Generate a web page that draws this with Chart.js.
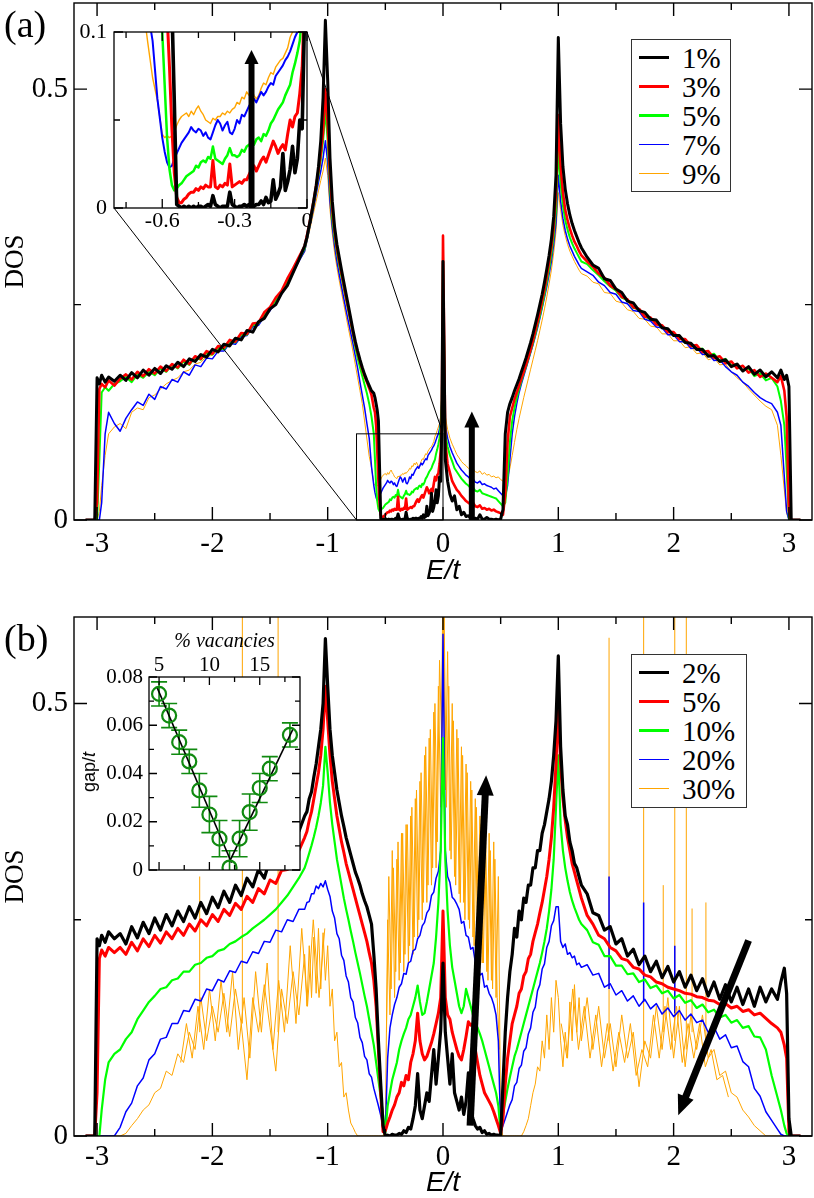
<!DOCTYPE html>
<html><head><meta charset="utf-8">
<script src="https://cdn.jsdelivr.net/npm/chart.js@4.4.1/dist/chart.umd.min.js"></script>
<style>
html,body{margin:0;padding:0;background:#fff;}
#wrap{position:relative;width:814px;height:1198px;overflow:hidden;background:#fff;}
canvas{position:absolute;}
.lbl{position:absolute;font-family:'Liberation Serif','Times New Roman',serif;color:#000;white-space:nowrap;z-index:4;}
.legend{position:absolute;border:1.5px solid #333;background:#fff;box-sizing:border-box;z-index:5;}
.legend .ln{position:absolute;left:7px;width:30px;}
.legend .tx{position:absolute;left:50px;font:29px/28px 'Liberation Serif',serif;color:#000;white-space:nowrap;}
#gapt{position:absolute;left:89px;top:772px;transform:translate(-50%,-50%) rotate(-90deg);font:18px/18px 'Liberation Sans',sans-serif;white-space:nowrap;z-index:4;}
#warn{position:absolute;left:300px;top:560px;color:#c00;font:12px sans-serif;z-index:9;}
</style></head>
<body><div id="wrap">
<canvas id="cA" width="814" height="600" style="left:0;top:0;z-index:1"></canvas>
<canvas id="cB" width="814" height="598" style="left:0;top:600px;z-index:1"></canvas>
<canvas id="cAi" width="290" height="240" style="left:40px;top:10px;z-index:2"></canvas>
<canvas id="cBi" width="260" height="280" style="left:60px;top:615px;z-index:2"></canvas>
<div class="lbl" style="left:4px;top:2px;font-size:38px;line-height:44px">(a)</div>
<div class="lbl" style="left:4px;top:616px;font-size:38px;line-height:44px">(b)</div>
<div id="gapt">gap/<i>t</i></div>
<div class="legend" id="legA" style="left:631px;top:39px;width:100px;height:153px"></div>
<div class="legend" id="legB" style="left:631px;top:654px;width:116px;height:154px"></div>
<div id="warn"></div>
</div>
<script>
// ---------- energy grids (E/t) ----------
const gA1=[-3.1,-3.02,-3,-2.98,-2.96,-2.93,-2.9,-2.85];
const gA2=[-2.8,-2.75,-2.7,-2.65,-2.6,-2.55,-2.5,-2.45,-2.4,-2.35,
-2.3,-2.25,-2.2,-2.15,-2.1,-2.05,-2,-1.95,-1.9,-1.85,
-1.8,-1.75,-1.7,-1.65,-1.6,-1.55,-1.5,-1.45,-1.4,-1.35,
-1.3,-1.25];
const gA3=[-1.2,-1.18,-1.16,-1.14,-1.12,-1.1,-1.08,-1.06,-1.04,-1.02,
-1,-0.98,-0.96,-0.94,-0.92,-0.9,-0.88,-0.86,-0.84,-0.82,
-0.8,-0.78,-0.76,-0.74,-0.72,-0.7,-0.68,-0.66,-0.64,-0.62];
const gA4=[-0.6,-0.59,-0.58,-0.57,-0.56,-0.55,-0.54,-0.53,-0.52,-0.51,
-0.5,-0.49,-0.48,-0.47,-0.46,-0.45,-0.44,-0.43,-0.42,-0.41,
-0.4,-0.39,-0.38,-0.37,-0.36,-0.35,-0.34,-0.33,-0.32,-0.31,
-0.3,-0.29,-0.28,-0.27,-0.26,-0.25,-0.24,-0.23,-0.22,-0.21,
-0.2,-0.19,-0.18,-0.17,-0.16,-0.15,-0.14,-0.13,-0.12,-0.11,
-0.1,-0.09,-0.08,-0.07,-0.06,-0.05,-0.04,-0.03,-0.02,-0.01,
0];
const gA5=[0.02,0.04,0.06,0.08,0.1,0.12,0.14,0.16,0.18,0.2,
0.22,0.24,0.26,0.28,0.3,0.32,0.34,0.36,0.38,0.4,
0.42,0.44,0.46,0.48,0.5,0.52,0.54,0.56,0.58,0.6];
const gA6=[0.62,0.64,0.66,0.68,0.7,0.72,0.74,0.76,0.78,0.8,
0.82,0.84,0.86,0.88,0.9,0.92,0.94,0.96,0.98,1,
1.02,1.04,1.06,1.08,1.1,1.12,1.14,1.16,1.18,1.2];
const gA7=[1.25,1.3,1.35,1.4,1.45,1.5,1.55,1.6,1.65,1.7,
1.75,1.8,1.85,1.9,1.95,2,2.05,2.1,2.15,2.2,
2.25,2.3,2.35,2.4,2.45,2.5,2.55,2.6,2.65,2.7,
2.75,2.8];
const gA8=[2.85,2.9,2.93,2.96,2.98,3,3.02,3.1];
const gB3=[-1.2,-1.18,-1.16,-1.14,-1.12,-1.1,-1.08,-1.06,-1.04,-1.02,
-1,-0.98,-0.96,-0.94,-0.92,-0.9,-0.88,-0.86,-0.84,-0.82,
-0.8,-0.78,-0.76,-0.74,-0.72,-0.7,-0.68,-0.66,-0.64,-0.62,
-0.6,-0.58,-0.56,-0.54,-0.52,-0.5,-0.48,-0.46,-0.44,-0.42,
-0.4,-0.38,-0.36,-0.34,-0.32,-0.3,-0.28,-0.26,-0.24,-0.22,
-0.2,-0.18,-0.16,-0.14,-0.12,-0.1,-0.08,-0.06,-0.04,-0.02,
0,0.02,0.04,0.06,0.08,0.1,0.12,0.14,0.16,0.18,
0.2,0.22,0.24,0.26,0.28,0.3,0.32,0.34,0.36,0.38,
0.4,0.42,0.44,0.46,0.48,0.5,0.52,0.54,0.56,0.58,
0.6,0.62,0.64,0.66,0.68,0.7,0.72,0.74,0.76,0.78,
0.8,0.82,0.84,0.86,0.88,0.9,0.92,0.94,0.96,0.98,
1,1.02,1.04,1.06,1.08,1.1,1.12,1.14,1.16,1.18,
1.2];
const gridA=[...gA1,...gA2,...gA3,...gA4,...gA5,...gA6,...gA7,...gA8];
const gridB=[...gA1,...gA2,...gB3,...gA7,...gA8];
// interleaved sampling points for the very jagged 30% curve
const gB30mid=[-0.49,-0.47,-0.45,-0.43,-0.41,-0.39,-0.37,-0.35,-0.33,-0.31,
-0.29,-0.27,-0.25,-0.23,-0.21,-0.19,-0.17,-0.15,-0.13,-0.11,
-0.09,-0.07,-0.05,-0.03,-0.01,0.01,0.03,0.05,0.07,0.09,
0.11,0.13,0.15,0.17,0.19,0.21,0.23,0.25,0.27,0.29,
0.31,0.33,0.35,0.37,0.39,0.41,0.43,0.45,0.47,0.49];
const gB30left=[-2.275,-2.225,-2.175,-2.125,-2.075,-2.025,-1.975,-1.925,-1.875,-1.825,
-1.775,-1.725,-1.675,-1.625,-1.575,-1.525,-1.475,-1.425,-1.375,-1.325,
-1.275,-1.225,-1.175,-1.125,-1.075,-1.025];
const gB30right=[1.025,1.075,1.125,1.175,1.225,1.275,1.325,1.375,1.425,1.475,
1.525,1.575,1.625,1.675,1.725,1.775,1.825,1.875,1.925,1.975,
2.025,2.075,2.125,2.175,2.225,2.275,2.325,2.375,2.425,2.475];

// ---------- panel (a) DOS series ----------
const dosA1=[0,0,0.165,0.158,0.168,0.16,0.166,0.161,
0.168,0.162,0.171,0.165,0.174,0.168,0.176,0.17,0.179,0.175,
0.183,0.178,0.187,0.184,0.192,0.189,0.198,0.195,0.204,0.202,
0.211,0.209,0.22,0.218,0.23,0.234,0.245,0.25,0.263,0.272,
0.287,0.302,
0.318,0.328,0.342,0.356,0.371,0.388,0.41,0.44,0.49,0.58,
0.51,0.42,0.37,0.34,0.32,0.305,0.29,0.276,0.262,0.248,
0.234,0.22,0.207,0.196,0.186,0.177,0.169,0.162,0.156,0.15,
0.147,0.142,0.135,0.127,0.115,0.06,0.002,0.001,0,0.001,
0,0.001,0,0.001,0,0.001,0.001,0,0.001,0.002,
0.001,0.007,0.002,0.001,0,0.001,0.001,0.001,0.009,0.002,
0.001,0,0.001,0.001,0.002,0.001,0.002,0.002,0.001,0.002,
0.002,0.004,0.002,0.006,0.003,0.004,0.016,0.005,0.008,0.012,
0.031,0.01,0.015,0.022,0.035,0.02,0.028,0.05,0.045,0.11,
0.3,
0.07,0.045,0.03,0.022,0.028,0.012,0.016,0.006,0.009,0.004,
0.005,0.002,0.001,0.002,0.001,0.006,0.001,0.001,0.003,0.001,
0.001,0,0.001,0,0.001,0.012,0.1,0.125,0.135,0.142,
0.15,0.157,0.164,0.172,0.18,0.188,0.197,0.206,0.216,0.227,
0.238,0.25,0.262,0.276,0.291,0.307,0.326,0.352,0.4,0.56,
0.46,0.41,0.384,0.367,0.354,0.344,0.336,0.329,0.322,0.316,
0.305,0.296,0.292,0.28,0.278,0.268,0.264,0.254,0.252,0.243,
0.241,0.233,0.232,0.223,0.222,0.214,0.214,0.206,0.205,0.198,
0.198,0.19,0.191,0.184,0.186,0.178,0.181,0.173,0.178,0.169,
0.174,0.166,
0.172,0.165,0.174,0.163,0.168,0.155,0,0];
const dosA3=[0,0,0.02,0.152,0.158,0.154,0.162,0.156,
0.164,0.169,0.163,0.172,0.167,0.175,0.17,0.178,0.173,0.181,
0.177,0.186,0.181,0.19,0.187,0.196,0.193,0.202,0.2,0.209,
0.207,0.217,0.216,0.228,0.229,0.241,0.247,0.258,0.266,0.28,
0.292,0.305,
0.318,0.33,0.343,0.357,0.372,0.388,0.405,0.425,0.45,0.5,
0.46,0.4,0.36,0.335,0.315,0.3,0.286,0.272,0.258,0.245,
0.231,0.217,0.205,0.194,0.184,0.175,0.167,0.16,0.153,0.145,
0.13,0.125,0.11,0.08,0.045,0.02,0.006,0.003,0.003,0.005,
0.006,0.008,0.009,0.009,0.011,0.01,0.012,0.011,0.013,0.012,
0.012,0.027,0.012,0.011,0.013,0.012,0.014,0.013,0.025,0.012,
0.013,0.014,0.015,0.014,0.016,0.016,0.019,0.022,0.024,0.021,
0.024,0.027,0.029,0.026,0.03,0.034,0.038,0.035,0.031,0.034,
0.036,0.033,0.042,0.05,0.046,0.052,0.054,0.065,0.08,0.12,
0.33,
0.09,0.065,0.055,0.045,0.04,0.035,0.032,0.028,0.025,0.022,
0.02,0.018,0.02,0.016,0.015,0.017,0.013,0.014,0.012,0.013,
0.011,0.012,0.01,0.009,0.008,0.006,0.03,0.09,0.12,0.13,
0.14,0.148,0.156,0.164,0.172,0.18,0.189,0.198,0.208,0.219,
0.23,0.242,0.255,0.268,0.283,0.299,0.317,0.34,0.38,0.47,
0.41,0.38,0.36,0.348,0.338,0.33,0.323,0.318,0.312,0.307,
0.3,0.294,0.286,0.281,0.272,0.268,0.259,0.256,0.247,0.245,
0.236,0.235,0.227,0.226,0.218,0.218,0.21,0.21,0.202,0.203,
0.195,0.196,0.188,0.19,0.182,0.184,0.176,0.179,0.171,0.174,
0.166,0.17,
0.165,0.16,0.167,0.15,0.12,0.01,0,0];
const dosA5=[0,0,0,0.07,0.148,0.154,0.15,0.158,
0.161,0.166,0.16,0.169,0.165,0.172,0.168,0.176,0.172,0.18,
0.176,0.184,0.18,0.189,0.186,0.194,0.192,0.2,0.198,0.207,
0.206,0.215,0.215,0.226,0.228,0.238,0.245,0.255,0.264,0.277,
0.29,0.302,
0.315,0.327,0.34,0.354,0.369,0.384,0.4,0.418,0.44,0.475,
0.44,0.385,0.35,0.328,0.31,0.295,0.282,0.268,0.255,0.242,
0.228,0.214,0.2,0.188,0.177,0.167,0.157,0.147,0.135,0.12,
0.1,0.07,0.04,0.022,0.013,0.01,0.011,0.013,0.014,0.016,
0.018,0.019,0.02,0.021,0.024,0.023,0.026,0.027,0.026,0.029,
0.028,0.035,0.028,0.027,0.026,0.025,0.028,0.03,0.034,0.03,
0.03,0.029,0.03,0.033,0.032,0.035,0.036,0.037,0.036,0.039,
0.04,0.038,0.042,0.041,0.044,0.048,0.05,0.053,0.056,0.058,
0.06,0.064,0.067,0.07,0.077,0.082,0.088,0.095,0.11,0.14,
0.31,
0.1,0.085,0.075,0.068,0.06,0.056,0.052,0.048,0.045,0.042,
0.04,0.037,0.038,0.034,0.033,0.035,0.031,0.03,0.029,0.028,
0.027,0.026,0.025,0.022,0.019,0.016,0.02,0.05,0.09,0.115,
0.13,0.142,0.152,0.161,0.17,0.178,0.187,0.196,0.205,0.215,
0.226,0.237,0.249,0.262,0.276,0.291,0.308,0.33,0.36,0.43,
0.39,0.365,0.348,0.337,0.328,0.321,0.315,0.31,0.305,0.3,
0.297,0.29,0.284,0.277,0.271,0.266,0.258,0.255,0.246,0.245,
0.236,0.233,0.229,0.223,0.221,0.214,0.213,0.206,0.205,0.198,
0.199,0.191,0.193,0.185,0.187,0.179,0.181,0.173,0.176,0.167,
0.17,0.162,
0.165,0.155,0.138,0.11,0.06,0.002,0,0];
const dosA7=[0,0,0,0,0.02,0.1,0.125,0.112,
0.103,0.118,0.128,0.137,0.133,0.146,0.14,0.155,0.152,0.163,
0.16,0.172,0.168,0.18,0.178,0.188,0.187,0.196,0.196,0.205,
0.204,0.213,0.214,0.224,0.226,0.236,0.243,0.252,0.262,0.274,
0.287,0.3,
0.312,0.324,0.337,0.35,0.364,0.378,0.392,0.405,0.42,0.44,
0.415,0.37,0.34,0.318,0.3,0.285,0.271,0.257,0.243,0.23,
0.217,0.204,0.19,0.176,0.16,0.145,0.13,0.112,0.095,0.062,
0.04,0.032,0.026,0.023,0.024,0.028,0.031,0.034,0.037,0.039,
0.041,0.043,0.046,0.044,0.043,0.045,0.044,0.041,0.043,0.04,
0.039,0.043,0.047,0.05,0.048,0.044,0.047,0.049,0.043,0.042,
0.045,0.05,0.048,0.053,0.052,0.055,0.058,0.06,0.062,0.06,
0.063,0.066,0.064,0.066,0.069,0.071,0.07,0.075,0.077,0.079,
0.081,0.084,0.086,0.089,0.093,0.097,0.1,0.106,0.118,0.14,
0.29,
0.11,0.095,0.085,0.078,0.072,0.066,0.062,0.058,0.055,0.052,
0.05,0.047,0.048,0.044,0.043,0.045,0.041,0.042,0.04,0.039,
0.038,0.036,0.037,0.034,0.031,0.028,0.027,0.04,0.07,0.1,
0.12,0.135,0.148,0.158,0.167,0.176,0.185,0.194,0.203,0.213,
0.223,0.234,0.246,0.258,0.271,0.285,0.3,0.32,0.345,0.4,
0.37,0.35,0.336,0.326,0.318,0.312,0.306,0.301,0.296,0.292,
0.288,0.284,0.276,0.272,0.264,0.262,0.253,0.251,0.243,0.242,
0.233,0.231,0.224,0.223,0.215,0.215,0.207,0.207,0.199,0.2,
0.192,0.193,0.185,0.186,0.178,0.172,0.168,0.16,0.155,0.148,
0.142,0.138,
0.135,0.125,0.11,0.05,0.01,0,0,0];
const dosA9=[0,0,0,0.01,0.04,0.075,0.1,0.108,
0.112,0.106,0.125,0.13,0.128,0.142,0.145,0.152,0.158,0.162,
0.165,0.172,0.174,0.181,0.183,0.19,0.191,0.199,0.2,0.207,
0.208,0.216,0.218,0.227,0.23,0.24,0.246,0.255,0.265,0.276,
0.288,0.3,
0.311,0.322,0.334,0.346,0.358,0.37,0.382,0.394,0.405,0.42,
0.4,0.36,0.332,0.31,0.293,0.278,0.264,0.25,0.236,0.222,
0.209,0.195,0.18,0.165,0.15,0.135,0.115,0.094,0.074,0.061,
0.042,0.04,0.041,0.04,0.041,0.043,0.047,0.05,0.052,0.053,
0.054,0.052,0.055,0.053,0.056,0.058,0.055,0.053,0.05,0.049,
0.048,0.051,0.05,0.052,0.052,0.054,0.053,0.055,0.054,0.056,
0.057,0.06,0.059,0.063,0.062,0.066,0.064,0.067,0.064,0.062,
0.064,0.068,0.071,0.07,0.074,0.077,0.076,0.08,0.082,0.084,
0.085,0.088,0.091,0.097,0.1,0.104,0.108,0.112,0.12,0.14,
0.27,
0.12,0.105,0.095,0.088,0.082,0.076,0.072,0.068,0.065,0.063,
0.06,0.058,0.06,0.056,0.055,0.057,0.053,0.055,0.052,0.053,
0.05,0.051,0.049,0.05,0.047,0.045,0.043,0.048,0.06,0.075,
0.09,0.105,0.118,0.13,0.142,0.153,0.164,0.175,0.186,0.197,
0.208,0.22,0.232,0.245,0.259,0.274,0.29,0.31,0.335,0.38,
0.36,0.342,0.33,0.32,0.312,0.306,0.3,0.295,0.29,0.286,
0.283,0.276,0.274,0.264,0.263,0.254,0.252,0.244,0.242,0.234,
0.233,0.225,0.224,0.216,0.216,0.208,0.208,0.2,0.201,0.193,
0.194,0.186,0.188,0.18,0.181,0.172,0.165,0.16,0.152,0.145,
0.138,0.132,
0.128,0.11,0.075,0.035,0.008,0,0,0];

// ---------- panel (b) DOS series ----------
const dosB2=[0,0,0.228,0.22,0.232,0.224,0.236,0.228,
0.234,0.222,0.242,0.229,0.247,0.234,0.252,0.238,0.256,0.243,
0.26,0.248,0.265,0.252,0.27,0.257,0.276,0.264,0.283,0.27,
0.29,0.278,0.298,0.288,0.308,0.298,0.32,0.311,0.334,0.328,
0.35,0.352,
0.37,0.375,0.39,0.398,0.415,0.43,0.45,0.47,0.5,0.575,
0.52,0.47,0.44,0.42,0.4,0.385,0.37,0.358,0.345,0.335,
0.325,0.315,0.305,0.298,0.29,0.28,0.272,0.265,0.255,0.245,
0.21,0.17,0.11,0.06,0.012,0,0.001,0,0.002,0.001,
0.001,0.003,0.002,0.006,0.004,0.01,0.008,0.02,0.035,0.072,
0.03,0.02,0.035,0.05,0.04,0.07,0.1,0.06,0.09,0.122,
0.2,0.12,0.09,0.06,0.095,0.05,0.04,0.03,0.045,0.025,
0.04,0.073,0.03,0.02,0.012,0.008,0.01,0.004,0.006,0.002,
0.003,0.001,0.002,0.001,0.001,0,0.06,0.12,0.16,0.19,
0.21,0.24,0.23,0.26,0.25,0.275,0.27,0.29,0.29,0.31,
0.31,0.33,0.33,0.35,0.36,0.375,0.39,0.41,0.44,0.48,
0.555,0.45,0.4,0.37,0.36,0.34,0.33,0.315,0.31,0.3,
0.29,
0.28,0.258,0.255,0.238,0.242,0.222,0.228,0.208,0.216,0.198,
0.208,0.19,0.202,0.183,0.196,0.178,0.19,0.172,0.186,0.168,
0.182,0.162,0.178,0.158,0.175,0.155,0.172,0.152,0.17,0.15,
0.172,0.155,
0.17,0.158,0.178,0.194,0.165,0.02,0,0];
const dosB5=[0,0,0.05,0.205,0.215,0.208,0.218,0.212,
0.218,0.21,0.224,0.214,0.228,0.219,0.232,0.223,0.236,0.228,
0.24,0.232,0.245,0.237,0.25,0.243,0.256,0.248,0.262,0.255,
0.269,0.262,0.277,0.27,0.286,0.28,0.296,0.292,0.307,0.308,
0.325,0.33,
0.345,0.352,0.365,0.375,0.39,0.405,0.42,0.44,0.47,0.52,
0.48,0.44,0.41,0.39,0.37,0.355,0.34,0.328,0.315,0.305,
0.295,0.285,0.275,0.265,0.255,0.245,0.235,0.225,0.212,0.2,
0.18,0.15,0.1,0.05,0.005,0.006,0.015,0.022,0.03,0.036,
0.045,0.05,0.062,0.058,0.07,0.065,0.085,0.095,0.11,0.142,
0.11,0.095,0.088,0.092,0.1,0.108,0.118,0.13,0.142,0.16,
0.26,0.16,0.14,0.135,0.12,0.11,0.1,0.092,0.088,0.1,
0.115,0.132,0.128,0.13,0.1,0.085,0.07,0.06,0.05,0.045,
0.04,0.035,0.028,0.02,0.012,0.003,0.02,0.06,0.09,0.11,
0.13,0.14,0.15,0.165,0.17,0.185,0.19,0.205,0.21,0.225,
0.235,0.245,0.258,0.27,0.285,0.3,0.32,0.345,0.38,0.43,
0.5,0.43,0.39,0.365,0.345,0.33,0.315,0.305,0.295,0.285,
0.275,
0.255,0.245,0.232,0.228,0.218,0.214,0.205,0.203,0.195,0.193,
0.186,0.184,0.178,0.176,0.172,0.17,0.168,0.165,0.164,0.161,
0.16,0.157,0.156,0.152,0.153,0.148,0.15,0.144,0.146,0.14,
0.142,0.136,
0.13,0.125,0.12,0.105,0.09,0.005,0,0];
const dosB10=[0,0,0,0,0.03,0.065,0.085,0.095,
0.1,0.112,0.12,0.135,0.145,0.155,0.162,0.17,0.172,0.18,
0.182,0.19,0.19,0.198,0.2,0.206,0.208,0.214,0.216,0.222,
0.225,0.23,0.234,0.24,0.245,0.25,0.256,0.262,0.27,0.278,
0.288,0.298,
0.31,0.318,0.327,0.336,0.346,0.357,0.37,0.385,0.405,0.45,
0.42,0.385,0.36,0.34,0.32,0.305,0.29,0.275,0.262,0.25,
0.237,0.225,0.212,0.2,0.188,0.175,0.162,0.15,0.135,0.12,
0.105,0.085,0.065,0.045,0.025,0.004,0.035,0.05,0.065,0.075,
0.085,0.1,0.11,0.118,0.125,0.135,0.14,0.15,0.16,0.174,
0.155,0.14,0.142,0.155,0.17,0.185,0.2,0.23,0.27,0.33,
0.46,0.32,0.26,0.22,0.195,0.18,0.165,0.15,0.142,0.15,
0.17,0.16,0.15,0.14,0.13,0.125,0.118,0.11,0.1,0.09,
0.08,0.07,0.06,0.05,0.035,0.004,0.025,0.04,0.055,0.068,
0.08,0.092,0.1,0.11,0.12,0.13,0.14,0.15,0.16,0.17,
0.18,0.19,0.2,0.212,0.225,0.24,0.26,0.285,0.32,0.38,
0.44,0.36,0.33,0.31,0.295,0.282,0.272,0.264,0.257,0.25,
0.245,
0.238,0.224,0.221,0.208,0.208,0.197,0.197,0.187,0.188,0.178,
0.181,0.171,0.174,0.165,0.168,0.159,0.163,0.154,0.157,0.148,
0.152,0.143,0.146,0.137,0.14,0.131,0.134,0.125,0.127,0.115,
0.114,0.1,
0.07,0.045,0.03,0.012,0.003,0,0,0];
const dosB20=[0,0,0,0,0,0,0,0,
0.01,0.028,0.038,0.058,0.067,0.088,0.095,0.112,0.114,0.13,
0.13,0.145,0.144,0.158,0.156,0.17,0.168,0.181,0.178,0.191,
0.189,0.202,0.2,0.213,0.211,0.225,0.224,0.238,0.236,0.25,
0.248,0.262,
0.262,0.27,0.271,0.28,0.28,0.289,0.286,0.292,0.288,0.295,
0.285,0.277,0.26,0.252,0.234,0.228,0.209,0.203,0.185,0.178,
0.16,0.155,0.137,0.131,0.114,0.108,0.092,0.088,0.072,0.068,
0.055,0.045,0.035,0.024,0.01,0.004,0.09,0.125,0.14,0.152,
0.16,0.172,0.176,0.188,0.187,0.2,0.202,0.214,0.216,0.228,
0.232,0.243,0.247,0.258,0.262,0.278,0.282,0.298,0.306,0.33,
0.58,0.33,0.3,0.293,0.276,0.273,0.268,0.262,0.246,0.248,
0.232,0.23,0.216,0.218,0.201,0.203,0.186,0.188,0.172,0.174,
0.165,0.16,0.152,0.14,0.11,0.004,0.012,0.02,0.028,0.036,
0.042,0.058,0.062,0.078,0.082,0.098,0.102,0.118,0.125,0.143,
0.149,0.168,0.175,0.193,0.199,0.218,0.225,0.243,0.249,0.265,
0.265,0.225,0.218,0.222,0.21,0.212,0.206,0.208,0.198,0.2,
0.195,
0.198,0.186,0.188,0.172,0.176,0.163,0.168,0.156,0.162,0.15,
0.158,0.147,0.153,0.141,0.148,0.138,0.145,0.134,0.141,0.131,
0.134,0.12,0.126,0.112,0.117,0.102,0.104,0.086,0.08,0.055,
0.046,0.028,
0.018,0.008,0.002,0,0,0,0,0];
const dosB30=[0,0,0,0,0,0,0,0,
0,0.003,0.012,0.02,0.03,0.036,0.05,0.055,0.075,0.07,
0.095,0.085,0.12,0.1,0.16,0.11,0.15,0.12,0.165,0.115,
0.17,0.13,0.065,0.16,0.12,0.175,0.125,0.075,0.17,0.13,
0.19,0.14,
0.21,0.15,0.22,0.16,0.23,0.165,0.24,0.17,0.235,0.18,
0.22,0.15,0.17,0.11,0.12,0.08,0.085,0.045,0.05,0.03,
0.015,0.01,0.004,0,0,0,0,0,0,0,
0,0,0,0,0,0.01,0.25,0.14,0.33,0.16,
0.32,0.18,0.35,0.19,0.36,0.2,0.37,0.21,0.39,0.23,
0.41,0.25,0.44,0.27,0.46,0.29,0.49,0.31,0.52,0.38,
0.65,0.4,0.56,0.33,0.5,0.3,0.47,0.28,0.45,0.27,
0.43,0.25,0.41,0.23,0.39,0.22,0.37,0.2,0.36,0.19,
0.35,0.18,0.34,0.16,0.3,0.01,0,0,0,0,
0,0,0,0,0,0.005,0.012,0.02,0.035,0.05,
0.06,0.08,0.075,0.11,0.09,0.14,0.1,0.16,0.12,0.18,
0.16,0.11,0.08,0.12,0.09,0.155,0.11,0.175,0.12,0.16,
0.11,
0.16,0.1,0.15,0.09,0.13,0.08,0.14,0.09,0.12,0.057,
0.11,0.09,0.15,0.1,0.16,0.09,0.15,0.08,0.14,0.1,
0.14,0.09,0.1,0.07,0.075,0.05,0.045,0.03,0.022,0.012,
0.006,0,
0,0,0,0,0,0,0,0];
const dosB30mid=[0.12,0.3,0.17,0.31,0.19,0.34,0.2,0.35,0.21,0.36,
0.22,0.38,0.23,0.4,0.25,0.42,0.27,0.45,0.29,0.47,
0.31,0.5,0.34,0.55,0.45,0.6,0.38,0.52,0.32,0.48,
0.29,0.46,0.27,0.44,0.25,0.42,0.24,0.4,0.22,0.38,
0.21,0.36,0.2,0.35,0.18,0.33,0.17,0.32,0.16,0.1];
const dosB30left=[0.085,0.13,0.09,0.15,0.1,0.17,0.11,0.18,0.12,0.19,
0.1,0.16,0.09,0.19,0.12,0.2,0.1,0.18,0.12,0.22,
0.13,0.24,0.15,0.25,0.16,0.24];
const dosB30right=[0.13,0.09,0.17,0.1,0.15,0.09,0.14,0.08,0.13,0.075,
0.12,0.085,0.13,0.07,0.1,0.08,0.14,0.09,0.15,0.1,
0.15,0.085,0.13,0.09,0.13,0.08,0.1,0.065,0.07,0.045];
// isolated resonance spikes in (b)
const spkOrE=[-2.11,-1.74,-1.43,1.44,1.74,1.91,2.01,2.11,2.16,2.28];
const spkOrLo=[0.12,0.13,0.12,0.11,0.1,0.12,0.11,0.1,0.12,0.1];
const spkOrHi=[0.3,0.65,0.65,0.576,0.65,0.29,0.65,0.65,0.263,0.27];
const spkBlE=[1.44,1.74,2.01];
const spkBlLo=[0.17,0.155,0.142];
const spkBlHi=[0.3,0.27,0.22];

// ---------- inset (b): gap vs vacancy ----------
const vacancy=[5,6,7,8,9,10,11,12,13,14,15,16,18];
const gapVal=[0.073,0.064,0.053,0.045,0.033,0.023,0.013,0.001,0.013,0.024,0.034,0.042,0.056];
const gapErr=[0.005,0.005,0.005,0.005,0.007,0.0075,0.0075,0.007,0.0075,0.0075,0.006,0.005,0.005];
const fitLeftX=[4.8,12.2], fitLeftY=[0.0757,0.003];
const fitRightX=[12.0,18.3], fitRightY=[0.0035,0.0584];

// ---------- labels, ticks, annotations ----------
const labelsA=['1%','3%','5%','7%','9%'];
const labelsB=['2%','5%','10%','20%','30%'];
const colors=['#000000','#ff0000','#00ff00','#0000ff','#ffa500'];
const xTicksMain=[-3,-2,-1,0,1,2,3];
const xMinorMain=[-2.5,-1.5,-0.5,0.5,1.5,2.5];
const yTicksMain=[0,0.5];
const yMinorMain=[0.25];
const xTicksInA=[-0.6,-0.3,0];
const xMinorInA=[-0.75,-0.45,-0.15];
const yTicksInA=[0,0.1];
const yMinorInA=[0.05];
const xTicksInB=[5,10,15];
const xMinorInB=[7.5,12.5,17.5];
const yTicksInB=[0,0.02,0.04,0.06,0.08];
const yMinorInB=[0.01,0.03,0.05,0.07];
const zoomBoxE=[-0.75,0], zoomBoxV=[0,0.1];
const arrowsA=[[0.25,0.0,0.25,0.126]];
const arrowsAi=[[-0.23,0.0,-0.23,0.0898]];
const arrowsB=[[0.235,0.012,0.374,0.417],[2.65,0.226,2.04,0.024]];

// ---------- helpers ----------
const warns=[];
function pts(grid,vals,name){
  if(grid.length!==vals.length) warns.push(name+' '+vals.length+'/'+grid.length);
  return grid.map((x,i)=>({x:x,y:vals[i]}));
}
function spikes(E,lo,hi){
  const out=[];
  E.forEach((e,i)=>{out.push({x:e,y:lo[i]},{x:e,y:hi[i]},{x:e,y:null});});
  return out;
}
const SERIF="'Liberation Serif','Times New Roman',serif";
const SANS="'Liberation Sans',Arial,sans-serif";
Chart.defaults.font.family=SERIF;
Chart.defaults.color='#000';

const frameTicks={
  id:'frameTicks',
  beforeDatasetsDraw(chart,args,o){
    if(!o.fill) return;
    const a=chart.chartArea,c=chart.ctx;
    c.save();c.fillStyle='#fff';c.fillRect(a.left,a.top,a.right-a.left,a.bottom-a.top);c.restore();
  },
  afterDatasetsDraw(chart,args,o){
    const c=chart.ctx,a=chart.chartArea,xs=chart.scales.x,ys=chart.scales.y;
    c.save();c.strokeStyle='#000';c.lineWidth=o.lw;c.beginPath();
    const tx=(vals,len)=>vals.forEach(v=>{const p=xs.getPixelForValue(v);c.moveTo(p,a.bottom);c.lineTo(p,a.bottom-len);c.moveTo(p,a.top);c.lineTo(p,a.top+len);});
    const ty=(vals,len)=>vals.forEach(v=>{const p=ys.getPixelForValue(v);c.moveTo(a.left,p);c.lineTo(a.left+len,p);c.moveTo(a.right,p);c.lineTo(a.right-len,p);});
    tx(o.xMajor,o.major);tx(o.xMinor,o.minor);ty(o.yMajor,o.major);ty(o.yMinor,o.minor);
    c.stroke();
    c.strokeRect(a.left,a.top,a.right-a.left,a.bottom-a.top);
    c.restore();
  }
};
const arrowPlug={
  id:'arrows',
  afterDatasetsDraw(chart,args,o){
    const c=chart.ctx,xs=chart.scales.x,ys=chart.scales.y;
    (o.list||[]).forEach(ar=>{
      const x0=xs.getPixelForValue(ar[0]),y0=ys.getPixelForValue(ar[1]);
      const x1=xs.getPixelForValue(ar[2]),y1=ys.getPixelForValue(ar[3]);
      const ang=Math.atan2(y1-y0,x1-x0),hl=o.head,hw=o.headW;
      const bx=x1-hl*Math.cos(ang),by=y1-hl*Math.sin(ang);
      c.save();c.strokeStyle='#000';c.fillStyle='#000';c.lineWidth=o.w;c.lineCap='butt';
      c.beginPath();c.moveTo(x0,y0);c.lineTo(bx+1*Math.cos(ang),by+1*Math.sin(ang));c.stroke();
      c.beginPath();c.moveTo(x1,y1);
      c.lineTo(bx+hw/2*Math.sin(ang),by-hw/2*Math.cos(ang));
      c.lineTo(bx-hw/2*Math.sin(ang),by+hw/2*Math.cos(ang));
      c.closePath();c.fill();c.restore();
    });
  }
};
let insetAChart=null;
const zoomMarks={
  id:'zoomMarks',
  afterDatasetsDraw(chart){
    const c=chart.ctx,xs=chart.scales.x,ys=chart.scales.y;
    const x0=xs.getPixelForValue(zoomBoxE[0]),x1=xs.getPixelForValue(zoomBoxE[1]);
    const y0=ys.getPixelForValue(zoomBoxV[0]),y1=ys.getPixelForValue(zoomBoxV[1]);
    c.save();c.strokeStyle='#000';c.lineWidth=1;
    c.strokeRect(x0,y1,x1-x0,y0-y1);
    if(insetAChart){
      const ia=insetAChart.chartArea;
      const cv=insetAChart.canvas,mv=chart.canvas;
      const ox=cv.offsetLeft-mv.offsetLeft,oy=cv.offsetTop-mv.offsetTop;
      c.beginPath();
      c.moveTo(x0,y0);c.lineTo(ia.left+ox,ia.bottom+oy);
      c.moveTo(x1,y1);c.lineTo(ia.right+ox,ia.top+oy);
      c.stroke();
    }
    c.restore();
  }
};
const errBars={
  id:'errBars',
  beforeDatasetsDraw(chart,args,o){
    const c=chart.ctx,a=chart.chartArea,xs=chart.scales.x,ys=chart.scales.y;
    c.save();c.beginPath();c.rect(a.left,a.top,a.right-a.left,a.bottom-a.top);c.clip();
    c.strokeStyle=o.color;c.lineWidth=1.6;c.beginPath();
    vacancy.forEach((v,i)=>{
      const px=xs.getPixelForValue(v);
      const yt=ys.getPixelForValue(gapVal[i]+gapErr[i]),yb=ys.getPixelForValue(gapVal[i]-gapErr[i]);
      c.moveTo(px,yt);c.lineTo(px,yb);
      c.moveTo(px-o.cap,yt);c.lineTo(px+o.cap,yt);
      c.moveTo(px-o.cap,yb);c.lineTo(px+o.cap,yb);
    });
    c.stroke();c.restore();
  }
};

function xScale(o){
  return {type:'linear',position:o.position||'bottom',min:o.min,max:o.max,
    grid:{display:false,drawTicks:false},border:{display:false},
    ticks:{autoSkip:false,maxRotation:0,padding:o.pad,font:{family:SERIF,size:o.fs,lineHeight:1},color:'#000',callback:v=>String(v)},
    afterBuildTicks:s=>{s.ticks=o.ticks.map(v=>({value:v}));},
    afterFit:s=>{s.height=o.h;s.paddingLeft=0;s.paddingRight=0;s.paddingTop=0;s.paddingBottom=0;},
    title:o.title||{display:false}};
}
function yScale(o){
  return {type:'linear',min:o.min,max:o.max,
    grid:{display:false,drawTicks:false},border:{display:false},
    ticks:{autoSkip:false,padding:o.pad,font:{family:SERIF,size:o.fs,lineHeight:1},color:'#000',callback:v=>String(v)},
    afterBuildTicks:s=>{s.ticks=o.ticks.map(v=>({value:v}));},
    afterFit:s=>{s.width=o.w;s.paddingLeft=0;s.paddingRight=0;s.paddingTop=0;s.paddingBottom=0;},
    title:o.title||{display:false}};
}
function lineDs(data,color,w,label){
  return {label:label,data:data,showLine:true,borderColor:color,backgroundColor:color,borderWidth:w,
    pointRadius:0,pointHoverRadius:0,borderJoinStyle:'round',tension:0,clip:0,spanGaps:false};
}
const baseOpts={animation:false,responsive:false,maintainAspectRatio:false,events:[],
  plugins:{legend:{display:false},tooltip:{enabled:false}}};

// ---------- panel (a) ----------
const seriesA=[dosA1,dosA3,dosA5,dosA7,dosA9];
const namesA=['dosA1','dosA3','dosA5','dosA7','dosA9'];
const widthsA=[3,2.6,2,1.5,1];
const widthsAi=[3.6,3,2.5,2,1.4];
const dataA=seriesA.map((v,i)=>pts(gridA,v,namesA[i]));

insetAChart=new Chart(document.getElementById('cAi'),{
  type:'scatter',
  data:{datasets:dataA.map((d,i)=>lineDs(d,colors[i],widthsAi[i],labelsA[i]))},
  options:Object.assign({},baseOpts,{
    layout:{padding:{top:22,right:23,left:0,bottom:0},autoPadding:false},
    plugins:Object.assign({},baseOpts.plugins,{
      frameTicks:{fill:true,lw:1.3,major:9,minor:6,xMajor:xTicksInA,xMinor:xMinorInA,yMajor:yTicksInA,yMinor:yMinorInA},
      arrows:{list:arrowsAi,w:6,head:14,headW:14}}),
    scales:{
      x:xScale({min:-0.8,max:0,ticks:xTicksInA,fs:22,pad:2,h:42}),
      y:yScale({min:0,max:0.1,ticks:yTicksInA,fs:22,pad:7,w:74})
    }}),
  plugins:[frameTicks,arrowPlug]
});

new Chart(document.getElementById('cA'),{
  type:'scatter',
  data:{datasets:dataA.map((d,i)=>lineDs(d,colors[i],widthsA[i],labelsA[i]))},
  options:Object.assign({},baseOpts,{
    layout:{padding:{top:3,right:2,left:0,bottom:0},autoPadding:false},
    plugins:Object.assign({},baseOpts.plugins,{
      frameTicks:{fill:false,lw:1.4,major:13,minor:7,xMajor:xTicksMain,xMinor:xMinorMain,yMajor:yTicksMain,yMinor:yMinorMain},
      arrows:{list:arrowsA,w:6,head:16,headW:15}}),
    scales:{
      x:xScale({min:-3.2,max:3.2,ticks:xTicksMain,fs:29,pad:10,h:80,
        title:{display:true,text:'E/t',color:'#000',font:{family:SANS,size:28,style:'italic',lineHeight:1},padding:{top:0,bottom:15}}}),
      y:yScale({min:0,max:0.6,ticks:yTicksMain,fs:29,pad:6,w:74,
        title:{display:true,text:'DOS',color:'#000',font:{family:SERIF,size:27,lineHeight:1},padding:{top:2,bottom:0}}})
    }}),
  plugins:[zoomMarks,frameTicks,arrowPlug]
});

// ---------- panel (b) ----------
const seriesB=[dosB2,dosB5,dosB10,dosB20,dosB30];
const namesB=['dosB2','dosB5','dosB10','dosB20','dosB30'];
const widthsB=[3.2,3,2.2,1.5,1];
const dsB=seriesB.map((v,i)=>lineDs(pts(gridB,v,namesB[i]),colors[i],widthsB[i],labelsB[i]));
dsB.push(lineDs(pts(gB30mid,dosB30mid,'dosB30mid'),colors[4],1,'30% (interleaved)'));
dsB.push(lineDs(pts(gB30left,dosB30left,'dosB30left'),colors[4],1,'30% (interleaved)'));
dsB.push(lineDs(pts(gB30right,dosB30right,'dosB30right'),colors[4],1,'30% (interleaved)'));
dsB.push(lineDs(spikes(spkBlE,spkBlLo,spkBlHi),colors[3],1.5,'20% spikes'));
dsB.push(lineDs(spikes(spkOrE,spkOrLo,spkOrHi),colors[4],1,'30% spikes'));
new Chart(document.getElementById('cB'),{
  type:'scatter',
  data:{datasets:dsB},
  options:Object.assign({},baseOpts,{
    layout:{padding:{top:17,right:2,left:0,bottom:0},autoPadding:false},
    plugins:Object.assign({},baseOpts.plugins,{
      frameTicks:{fill:false,lw:1.4,major:13,minor:7,xMajor:xTicksMain,xMinor:xMinorMain,yMajor:yTicksMain,yMinor:yMinorMain},
      arrows:{list:arrowsB,w:7,head:20,headW:17}}),
    scales:{
      x:xScale({min:-3.2,max:3.2,ticks:xTicksMain,fs:29,pad:7,h:62,
        title:{display:true,text:'E/t',color:'#000',font:{family:SANS,size:28,style:'italic',lineHeight:1},padding:{top:0,bottom:1}}}),
      y:yScale({min:0,max:0.6,ticks:yTicksMain,fs:29,pad:6,w:74,
        title:{display:true,text:'DOS',color:'#000',font:{family:SERIF,size:27,lineHeight:1},padding:{top:2,bottom:0}}})
    }}),
  plugins:[frameTicks,arrowPlug]
});

// ---------- inset (b) ----------
const gapPts=vacancy.map((v,i)=>({x:v,y:gapVal[i]}));
const fitL=fitLeftX.map((v,i)=>({x:v,y:fitLeftY[i]}));
const fitR=fitRightX.map((v,i)=>({x:v,y:fitRightY[i]}));
new Chart(document.getElementById('cBi'),{
  type:'scatter',
  data:{datasets:[
    {label:'gap',data:gapPts,showLine:false,pointRadius:7,pointBorderWidth:2.2,pointBorderColor:'#108a10',pointBackgroundColor:'rgba(0,0,0,0)',clip:0},
    lineDs(fitL,'#000',1.6,'fit1'),
    lineDs(fitR,'#000',1.6,'fit2')
  ]},
  options:Object.assign({},baseOpts,{
    layout:{padding:{top:0,right:20,left:0,bottom:25},autoPadding:false},
    plugins:Object.assign({},baseOpts.plugins,{
      frameTicks:{fill:true,lw:1.3,major:8,minor:5,xMajor:xTicksInB,xMinor:xMinorInB,yMajor:yTicksInB,yMinor:yMinorInB},
      errBars:{color:'#108a10',cap:8}}),
    scales:{
      x:xScale({min:4,max:19,ticks:xTicksInB,fs:21,pad:1.5,h:62,position:'top',
        title:{display:true,text:'% vacancies',color:'#000',font:{family:SERIF,size:20,style:'italic',lineHeight:1},padding:{top:17,bottom:0}}}),
      y:yScale({min:0,max:0.08,ticks:yTicksInB,fs:21,pad:6,w:89})
    }}),
  plugins:[frameTicks,errBars]
});

// ---------- legends (HTML text) ----------
function buildLegend(id,labels,widths){
  const el=document.getElementById(id);
  const centers=[17.5,46.5,75.5,104.5,133.5];
  labels.forEach((t,i)=>{
    const ln=document.createElement('div');ln.className='ln';
    ln.style.top=(centers[i]-widths[i]/2)+'px';ln.style.height=widths[i]+'px';ln.style.background=colors[i];
    el.appendChild(ln);
    const tx=document.createElement('div');tx.className='tx';tx.textContent=t;
    tx.style.top=(centers[i]-14)+'px';
    el.appendChild(tx);
  });
}
buildLegend('legA',labelsA,[3,3,2.5,1.5,1.2]);
buildLegend('legB',labelsB,[3,3,2.5,1.5,1.2]);
if(warns.length) document.getElementById('warn').textContent='LEN: '+warns.join(', ');
</script>
</body></html>
